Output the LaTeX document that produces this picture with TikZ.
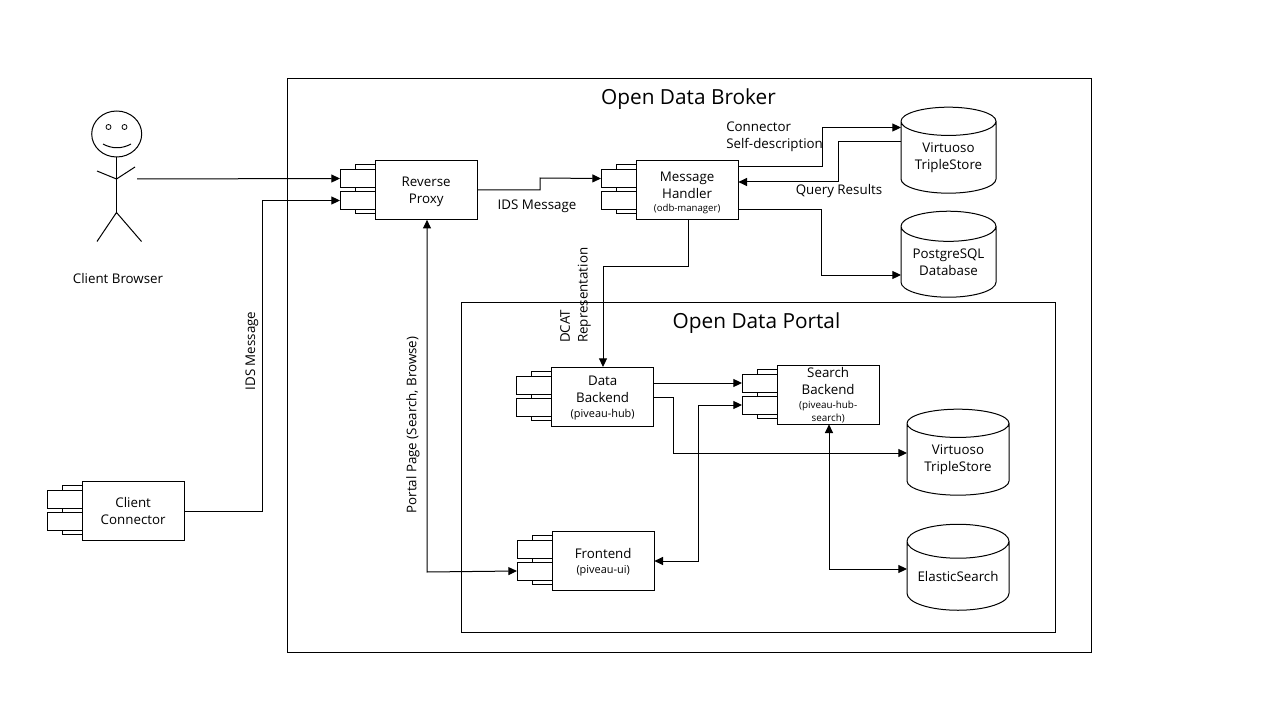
\documentclass[tikz,border=0pt]{standalone}
\usepackage{fontspec}
\setmainfont{Open Sans}
\usetikzlibrary{arrows.meta,shapes.geometric}
\tikzset{
  ln/.style={draw=black,line width=0.75pt},
  conn/.style={ln,-{Triangle[length=6.5pt,width=6pt]}},
  connb/.style={ln,{Triangle[length=6.5pt,width=6pt]}-{Triangle[length=6.5pt,width=6pt]}},
  mainbox/.style={ln,fill=white,rectangle,anchor=north west,inner sep=0pt,outer sep=0pt,minimum width=76.75pt,minimum height=44.5pt},
  comptext/.style={inner sep=0pt,align=center,font=\fontsize{10}{12.75}\selectfont},
  tabbox/.style={ln,fill=white,rectangle,anchor=north west,inner sep=0pt,outer sep=0pt,minimum width=26.25pt,minimum height=13.5pt},
  dbase/.style={ln,fill=white,cylinder,shape border rotate=90,aspect=0.42,inner sep=0pt,outer sep=0pt,align=center,font=\fontsize{10}{13}\selectfont},
  lbl/.style={font=\fontsize{10}{12.75}\selectfont,align=left,inner sep=0pt},
  ttl/.style={font=\fontsize{15.6}{18}\selectfont,inner sep=0pt}
}
\newcommand{\smalltxt}[2]{{\fontsize{#1}{9}\selectfont #2}}
% name, x, y, text, text shift in px
\newcommand{\comp}[5]{%
  \draw[ln,fill=white] (#2-20,#3+4) rectangle (#2,#3+53.5);
  \node[tabbox] (#1t1) at (#2-35,#3+9) {};
  \node[tabbox] (#1t2) at (#2-35,#3+31) {};
  \node[mainbox] (#1) at (#2,#3) {};
  \node[comptext] (#1L) at ([yshift=-#5*0.75pt]#1.center) {#4};
}
\begin{document}
\begin{tikzpicture}[x=0.75pt,y=-0.75pt]
\useasboundingbox (0,0) rectangle (1280,720);
\node[ln,rectangle,anchor=north west,inner sep=0,outer sep=0,minimum width=603pt,minimum height=430.5pt] (broker) at (287.5,78.5) {};
\node[ln,rectangle,anchor=north west,inner sep=0,outer sep=0,minimum width=445.5pt,minimum height=247.5pt] (portal) at (461.5,302.5) {};
\node[ttl] (brokerT) at (688.5,99) {Open Data Broker};
\node[ttl] (portalT) at (756.5,323) {Open Data Portal};
% person
\draw[ln] (116.7,134) ellipse [x radius=25,y radius=23];
\draw[ln,line width=0.6pt] (108.5,127) circle [radius=2.5];
\draw[ln,line width=0.6pt] (124.5,127) circle [radius=2.5];
\draw[ln] (103,144) .. controls (112,149) and (122,149) .. (131,144);
\draw[ln] (116.5,157) -- (116.5,212.5);
\draw[ln] (97,171) -- (116.5,179) -- (135,167);
\draw[ln] (97,241.5) -- (116.5,212.5) -- (141.5,241.5);
\coordinate (person) at (137,179);
\node[lbl] (browserT) at (118,278) {Client Browser};
% components
\comp{cc}{82}{481}{Client\\Connector}{0.5}
\comp{rp}{375}{160.5}{Reverse\\Proxy}{1.5}
\comp{mh}{636}{160.5}{Message\\Handler\\[-3pt]\smalltxt{7.2}{(odb-manager)}}{2.5}
\comp{db}{551.5}{367}{Data\\Backend\\[-2pt]\smalltxt{8.2}{(piveau-hub)}}{1.5}
\comp{sb}{777}{365}{Search\\Backend\\[-2.5pt]\smalltxt{7.4}{(piveau-hub-}\\[-3pt]\smalltxt{7.4}{search)}}{0.5}
\comp{fe}{552}{531}{Frontend\\[-2pt]\smalltxt{8.2}{(piveau-ui)}}{1.5}
% databases
\node[dbase,minimum width=71.25pt,minimum height=64.5pt] (vt1) at (948.5,157.5) {Virtuoso\\TripleStore};
\node[dbase,minimum width=71.25pt,minimum height=64.5pt] (pg) at (948.5,262) {PostgreSQL\\Database};
\node[dbase,minimum width=76.5pt,minimum height=64.5pt] (vt2) at (958,459.5) {Virtuoso\\TripleStore};
\node[dbase,minimum width=76.5pt,minimum height=64.5pt] (es) at (958,576) {ElasticSearch};
% connectors
\draw[conn] (person) -- (rpt1.west);
\draw[conn] (cc.east |- 0,511) -- (262,511) -- (262,200.5) -- (rpt2.west);
\draw[conn] (rp.east |- 0,190) -- (540,190) -- (540,178) -- (mht1.west);
\draw[conn] (mh.east |- 0,167) -- (822,167) -- (822,127.5) -- (vt1.west |- 0,127.5);
\draw[conn] (vt1.west |- 0,142) -- (838,142) -- (838,182) -- (mh.east |- 0,182);
\draw[conn] (mh.east |- 0,210) -- (821,210) -- (821,275) -- (pg.west |- 0,275);
\draw[conn] (688,219) -- (688,266) -- (603,266) -- (db.north -| 603,0);
\draw[conn] (db.east |- 0,383) -- (sbt1.west);
\draw[conn] (db.east |- 0,397) -- (673,397) -- (673,453) -- (vt2.west |- 0,453);
\draw[connb] (fe.east |- 0,561) -- (698,561) -- (698,405) -- (sbt2.west);
\draw[connb] (sb.south -| 829,0) -- (829,569) -- (es.west |- 0,569);
\draw[connb] (rp.south -| 427,0) -- (427,572) -- (fet2.west);
% labels
\node[lbl] (idsA) at (537,206) {IDS Message};
\node[lbl,rotate=90] (idsB) at (252,351) {IDS Message};
\node[lbl,rotate=90] (portalL) at (413,425) {Portal Page (Search, Browse)};
\node[lbl,rotate=90,anchor=north west,align=left] (dcat) at (560,343) {DCAT\\[0.6pt]Representation};
\node[lbl,anchor=west] (selfd) at (726,137) {Connector\\[-0.3pt]Self-description};
\node[lbl] (qr) at (839,191) {Query Results};
\end{tikzpicture}
\end{document}
